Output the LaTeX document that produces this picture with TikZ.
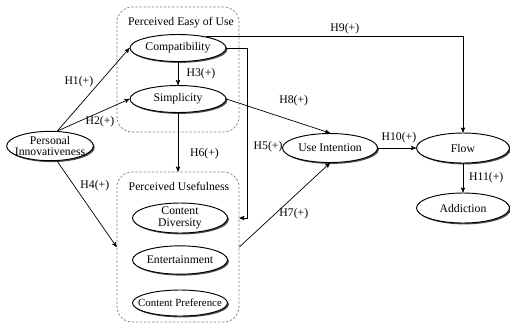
\documentclass[tikz,border=0pt]{standalone}
\usepackage{fontspec}
\setmainfont{Liberation Serif}
\usetikzlibrary{positioning, arrows, shapes.geometric, shadows}
\tikzset{
	construct/.style={
		ellipse,
		draw=black, thick,
		fill=white,
		drop shadow={shadow xshift=1.2pt, shadow yshift=-1.2pt, fill=black!70, opacity=1},
		minimum width=2.85cm,
		minimum height=0.85cm,
		inner xsep=-30pt, inner ysep=-12pt,
		align=center,
		font=\fontsize{10}{10}\selectfont,
	},
	group/.style={
		rectangle,
		rounded corners=13pt,
		draw=black!50, dash pattern=on 2pt off 1.5pt,
		inner sep=0pt,
	},
	hyp/.style={
		inner sep=1pt,
	},
}

\begin{document}
\begin{tikzpicture}[->,>=stealth', x=0.03cm, y=-0.03cm, line width=0.6pt]
        \useasboundingbox (0,0) rectangle (510,325);

        % the two groups
        \node[group, minimum width=3.66cm, minimum height=3.75cm] (peou) at (178,69.5) {};
        \node[group, minimum width=3.66cm, minimum height=4.5cm] (pu) at (178,247) {};
        \node (peoutitle) at (181,23) {Perceived Easy of Use};
        \node (putitle) at (179,186) {Perceived Usefulness};

        \node[construct, minimum width=2.88cm, minimum height=0.81cm] (compat) at (178,48) {Compatibility};
        \node[construct, minimum width=2.88cm, minimum height=0.81cm] (simp) at (178,99) {Simplicity};
        \node[construct, minimum width=2.6cm, minimum height=0.88cm] (pi) at (50,146) {Personal\\Innovativeness};
        \node[construct, minimum height=0.9cm] (cd) at (180,218) {Content\\Diversity};
        \node[construct] (ent) at (180,260) {Entertainment};
        \node[construct, minimum height=0.78cm, font=\fontsize{9.3}{10}\selectfont] (cp) at (180,303) {Content Preference};
        \node[construct, minimum height=0.87cm] (ui) at (330,148) {Use Intention};
        \node[construct, minimum width=2.79cm, minimum height=0.9cm] (flow) at (463,148) {Flow};
        \node[construct, minimum width=2.79cm, minimum height=0.9cm] (addic) at (463,208) {Addiction};

        \path (pi.64) edge node[hyp, left=5pt, pos=0.6]{H1(+)} (compat.west)
        (pi.64) edge node[hyp, below=2pt, pos=0.59]{H2(+)} (simp.west)
        (compat.south) edge node[hyp, right=6pt]{H3(+)} (simp.north)
        (pi.-65) edge node[hyp, right=4pt, pos=0.29]{H4(+)} (pu.west)
        (simp.south) edge node[hyp, right=9pt, pos=0.7]{H6(+)} (pu.north)
        (pu.east) edge node[hyp, right=2pt, pos=0.4]{H7(+)} (ui.south)
        (simp.east) edge node[hyp, above=12pt, pos=0.65]{H8(+)} (ui.north)
        (ui.east) edge node[hyp, above=3pt, pos=0.55]{H10(+)} (flow.west)
        (flow.south) edge node[hyp, right=4pt]{H11(+)} (addic.north)
        ;
        \draw (compat.22) -| node[hyp, above=1pt, pos=0.27]{H9(+)} (flow.north);
        \draw (compat.east) -- ++(21,0) coordinate (h5) -- (h5 |- cd) node[hyp, right=4pt, pos=0.58]{H5(+)} -- (pu.east |- cd);
    \end{tikzpicture}
\end{document}
